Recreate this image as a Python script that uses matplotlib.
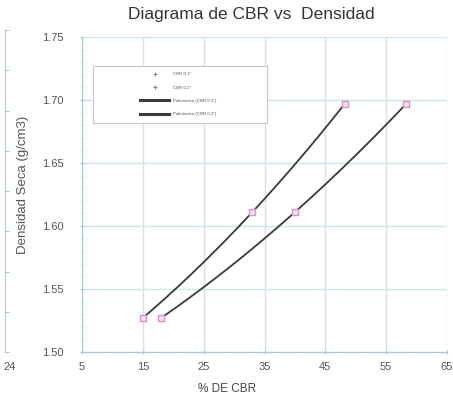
import numpy as np
import matplotlib.pyplot as plt
from matplotlib.ticker import MultipleLocator
from matplotlib.patches import Rectangle
from matplotlib.lines import Line2D

plt.rcParams['font.family'] = ['Liberation Sans', 'DejaVu Sans']

# datos
cbr_1 = [15, 33, 48.2]
dens_1 = [1.527, 1.611, 1.697]
cbr_2 = [18, 40, 58.3]
dens_2 = [1.527, 1.611, 1.697]
labels = ['CBR 0.1"', 'CBR 0.2"', 'Polinómica (CBR 0.1")', 'Polinómica (CBR 0.2")']

grid_c = '#cfe5e8'
axis_c = '#a9c6d2'
text_c = '#555555'
pink = '#d88fc4'

fig = plt.figure(figsize=(4.53, 4.01), dpi=100)
ax = fig.add_axes([82 / 453, 1 - 352 / 401, 365 / 453, 315 / 401])

# curvas de ajuste polinomico (grado 2)
for xs, ys in [(cbr_1, dens_1), (cbr_2, dens_2)]:
    c = np.polyfit(xs, ys, 2)
    xx = np.linspace(min(xs), max(xs), 200)
    ax.plot(xx, np.polyval(c, xx), color='#3a3a3a', lw=1.3, zorder=3)

for xs, ys in [(cbr_1, dens_1), (cbr_2, dens_2)]:
    ax.plot(xs, ys, ls='none', marker='s', ms=4.6, mfc='#f6e3ef',
            mec=pink, mew=1.0, zorder=4)

ax.set_xlim(5, 65)
ax.set_ylim(1.50, 1.75)
ax.set_xticks([5, 15, 25, 35, 45, 55, 65])
ax.set_yticks([1.50, 1.55, 1.60, 1.65, 1.70, 1.75])
ax.set_yticklabels(['1.50', '1.55', '1.60', '1.65', '1.70', '1.75'])
ax.xaxis.set_minor_locator(MultipleLocator(2))
ax.yaxis.set_minor_locator(MultipleLocator(0.01))
ax.grid(True, which='major', color=grid_c, lw=1.0)
ax.set_axisbelow(True)
for s in ['top', 'right']:
    ax.spines[s].set_visible(False)
for s in ['left', 'bottom']:
    ax.spines[s].set_color(axis_c)
ax.tick_params(which='both', colors=axis_c, labelcolor=text_c, labelsize=8)
ax.tick_params(axis='y', which='major', length=3, pad=12, direction='inout')
ax.tick_params(axis='x', which='major', length=3, pad=6, direction='inout')
ax.tick_params(which='minor', length=2, direction='inout')

ax.set_xlabel('% DE CBR', fontsize=8.5, color='#444444')
ax.xaxis.set_label_coords(0.397, -0.10)
ax.set_ylabel('Densidad Seca (g/cm3)', fontsize=9.5, color='#555555')
ax.yaxis.set_label_coords(-0.145, 0.53)

fig.text(251 / 453, 1 - 15 / 401, 'Diagrama de CBR vs  Densidad',
         ha='center', va='center', fontsize=12.5, color='#333333')

# leyenda
ax.add_patch(Rectangle((11 / 365, (352 - 123) / 315), 174 / 365, 57 / 315,
                       transform=ax.transAxes, facecolor='white',
                       edgecolor='#c8c8c8', lw=0.8, zorder=5))
handles = [
    Line2D([], [], ls='none', marker='+', ms=3, mec='#888888', mew=0.8),
    Line2D([], [], ls='none', marker='+', ms=3, mec='#888888', mew=0.8),
    Line2D([], [], color='#3a3a3a', lw=2.2),
    Line2D([], [], color='#3a3a3a', lw=2.2),
]
leg = ax.legend(handles, labels, loc='upper left',
                bbox_to_anchor=(58 / 365, (352 - 72) / 315), frameon=False,
                fontsize=3.2, handlelength=6.6, handletextpad=0.8,
                labelspacing=2.1, borderpad=0, borderaxespad=0,
                labelcolor='#555555')
leg.set_zorder(6)

# borde del grafico vecino recortado a la izquierda
ax2 = fig.add_axes([5 / 453, 1 - 352 / 401, 0.002, 322 / 401])
ax2.set_xticks([])
ax2.set_ylim(0, 8)
ax2.set_yticks(range(9))
ax2.set_yticklabels([])
for s in ['top', 'right', 'bottom']:
    ax2.spines[s].set_visible(False)
ax2.spines['left'].set_color(axis_c)
ax2.tick_params(axis='y', direction='in', length=3, colors=axis_c)
fig.text(10 / 453, 1 - 367 / 401, '24', ha='center', va='center',
         fontsize=8, color=text_c)

fig.savefig('out.png', dpi=100)
